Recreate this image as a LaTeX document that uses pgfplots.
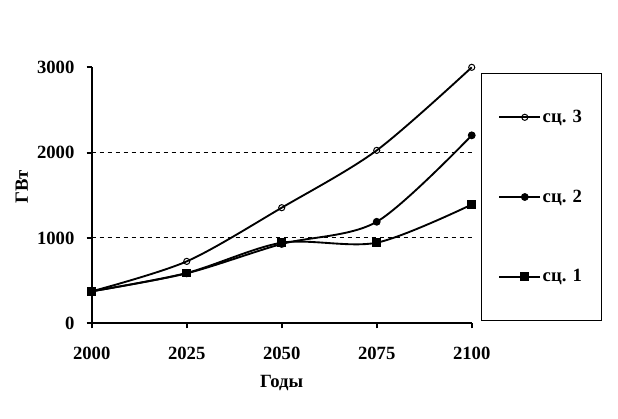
\documentclass[border=0pt]{standalone}
\usepackage{pgfplots}
\pgfplotsset{compat=1.18}
\usepackage{fontspec}
\setmainfont{Liberation Serif}
\begin{document}
\begin{tikzpicture}
\path[use as bounding box] (0,0) rectangle (463.5pt,313.5pt);
\begin{axis}[
  at={(68.8pt,71pt)}, anchor=south west,
  scale only axis, width=285pt, height=192pt,
  font=\fontsize{14}{16}\selectfont\bfseries,
  /pgf/number format/assume math mode=true,
  /pgf/number format/1000 sep={},
  xmin=2000, xmax=2100, ymin=0, ymax=3000,
  xtick={2000,2025,2050,2075,2100},
  ytick={0,1000,2000,3000},
  axis lines=left, axis line style={line width=1.5pt, -},
  tick align=outside, major tick length=3.75pt,
  tick style={line width=1.5pt, black},
  extra y ticks={1000,2000}, extra y tick labels={},
  extra y tick style={grid=major, major tick length=0pt, grid style={dashed, line width=0.75pt, black}},
  xticklabel style={yshift=-10.5pt},
  yticklabel style={xshift=-5.75pt},
  xlabel={Годы}, ylabel={ГВт},
  xlabel style={at={(axis description cs:0.5,-0.233)}, anchor=center},
  ylabel style={at={(axis description cs:-0.184,0.534)}, anchor=center},
  clip=false,
  legend style={at={(1.0245,0.978)}, anchor=north west, draw=black, line width=0.75pt,
    inner xsep=12.5pt, inner ysep=25.5pt, row sep=45pt, font=\fontsize{14}{16}\selectfont\bfseries},
  legend cell align=left,
  legend image code/.code={\path (0pt,0pt) -- (30pt,0pt);
    \draw[overlay,mark repeat=2,mark phase=2] plot coordinates {(7.5pt,0pt) (19.25pt,0pt) (31pt,0pt)};},
  every axis plot/.append style={line width=1.4pt, black, smooth},
]
\addplot[mark=o, mark size=2.3pt, mark options={fill=white, line width=0.75pt, solid}] coordinates {
(2000,375) (2025,726) (2050,1355) (2075,2027) (2100,3000)};
\addlegendentry{сц. 3}
\addplot[mark=*, mark size=2.2pt, mark options={solid}] coordinates {
(2000,375) (2025,586) (2050,930) (2075,1190) (2100,2203)};
\addlegendentry{сц. 2}
\addplot[mark=square*, mark size=2.6pt, mark options={solid}] coordinates {
(2000,375) (2025,590) (2050,945) (2075,945) (2100,1392)};
\addlegendentry{сц. 1}
\end{axis}
\end{tikzpicture}
\end{document}
